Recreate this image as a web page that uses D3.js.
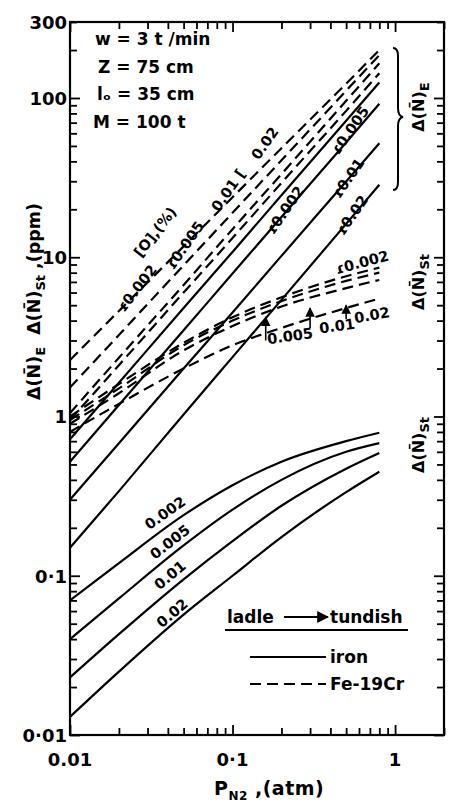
<!DOCTYPE html>
<html>
<head>
<meta charset="utf-8">
<script src="https://cdn.jsdelivr.net/npm/d3@7"></script>
<style>
  body { margin: 0; background: #fff; }
  svg text { font-family: "DejaVu Sans", sans-serif; fill: #000; font-weight: bold; }
</style>
</head>
<body>
<script>
const pressures = [0.01, 0.02, 0.05, 0.1, 0.2, 0.5, 0.8];
const oxygen = ["0.002", "0.005", "0.01", "0.02"];

// entrainment pickup dN_E (ppm), iron - solid
const ironE002 = [0.72, 1.63, 4.8, 10.8, 24.5, 72, 125];
const ironE005 = [0.52, 1.18, 3.48, 7.9, 17.9, 52.6, 92];
const ironE01  = [0.30, 0.68, 2.0, 4.5, 10.2, 29.9, 52];
const ironE02  = [0.15, 0.34, 1.03, 2.36, 5.4, 16.2, 28.5];

// entrainment pickup dN_E (ppm), Fe-19Cr - dashed
const crE002 = [2.26, 4.6, 11.7, 23.8, 48.4, 123, 200];
const crE005 = [1.52, 3.25, 8.9, 19.0, 40.6, 111, 186];
const crE01  = [1.05, 2.34, 6.7, 15.0, 33.3, 96, 165];
const crE02  = [0.95, 2.1, 6.0, 13.2, 29.3, 83, 143];

// stream pickup dN_St (ppm), Fe-19Cr - dashed
const crSt002 = [1.0, 1.6, 2.9, 4.2, 5.6, 7.6, 8.6];
const crSt005 = [0.95, 1.5, 2.8, 4.0, 5.3, 7.1, 8.0];
const crSt01  = [0.9, 1.4, 2.6, 3.7, 4.9, 6.4, 7.2];
const crSt02  = [0.8, 1.2, 2.0, 2.8, 3.6, 4.8, 5.5];

// stream pickup dN_St (ppm), iron - solid
const ironSt002 = [0.07, 0.12, 0.24, 0.37, 0.52, 0.70, 0.79];
const ironSt005 = [0.04, 0.072, 0.155, 0.26, 0.40, 0.60, 0.68];
const ironSt01  = [0.023, 0.043, 0.095, 0.165, 0.275, 0.47, 0.59];
const ironSt02  = [0.013, 0.025, 0.057, 0.10, 0.175, 0.335, 0.45];

const xTicks = [0.01, 0.1, 1];
const xTickLabels = ["0.01", "0·1", "1"];
const yTicks = [0.01, 0.1, 1, 10, 100, 300];
const yTickLabels = ["0·01", "0·1", "1", "10", "100", "300"];

const W = 449, H = 805;
const svg = d3.select("body").append("svg").attr("width", W).attr("height", H);

const x = d3.scaleLog().domain([0.01, 2]).range([70, 444]);
const y = d3.scaleLog().domain([0.01, 300]).range([735, 22]);

// tick marks, all pointing inward
const isMajor = v => Math.abs(Math.log10(v) - Math.round(Math.log10(v))) < 1e-6;
const len = v => isMajor(v) ? 10 : 7;

function ticks(axis, tr, attr, sign) {
  const g = svg.append("g").attr("transform", tr)
    .call(axis.tickFormat("").tickSizeOuter(0));
  g.select(".domain").remove();
  g.selectAll(".tick line").attr(attr, d => sign * len(d)).attr("stroke-width", 1.8);
}
ticks(d3.axisBottom(x).tickValues(x.ticks()), "translate(0,735)", "y2", -1);
ticks(d3.axisTop(x).tickValues(x.ticks()), "translate(0,22)", "y2", 1);
ticks(d3.axisLeft(y).tickValues(y.ticks()), "translate(70,0)", "x2", 1);
ticks(d3.axisRight(y).tickValues(y.ticks()), "translate(444,0)", "x2", -1);

svg.append("rect").attr("x", 70).attr("y", 22).attr("width", 374).attr("height", 713)
  .attr("fill", "none").attr("stroke", "#000").attr("stroke-width", 2.2);

// tick labels
svg.selectAll(".xl").data(xTicks).join("text")
  .attr("x", d => x(d)).attr("y", 766).attr("text-anchor", "middle")
  .attr("font-size", 18).text((d, i) => xTickLabels[i]);
svg.selectAll(".yl").data(yTicks).join("text")
  .attr("x", 67).attr("y", d => y(d) + 7).attr("text-anchor", "end")
  .attr("font-size", 18).text((d, i) => yTickLabels[i]);

// curves
const line = d3.line().x(d => x(d[0])).y(d => y(d[1])).curve(d3.curveMonotoneX);
const series = [
  [ironE002, false], [ironE005, false], [ironE01, false], [ironE02, false],
  [crE002, true], [crE005, true], [crE01, true], [crE02, true],
  [crSt002, true], [crSt005, true], [crSt01, true], [crSt02, true],
  [ironSt002, false], [ironSt005, false], [ironSt01, false], [ironSt02, false]
];
svg.append("g").selectAll("path").data(series).join("path")
  .attr("d", d => line(pressures.map((p, i) => [p, d[0][i]])))
  .attr("fill", "none").attr("stroke", "#000").attr("stroke-width", 2.2)
  .attr("stroke-dasharray", d => d[1] ? "11,6" : null);

// curve labels: anchor in data space, rotation in degrees
const curveLabels = [
  {t: "[O],(%)", p: 0.0334, v: 14.4, a: -52},
  {t: "\u027E" + oxygen[0], p: 0.0258, v: 6.4, a: -52},
  {t: "\u027E" + oxygen[1], p: 0.051, v: 11.9, a: -55},
  {t: oxygen[2] + " [", p: 0.094, v: 26.4, a: -55},
  {t: oxygen[3], p: 0.158, v: 52, a: -55},
  {t: "\u027E" + oxygen[0], p: 0.21, v: 19.8, a: -55},
  {t: "\u027E" + oxygen[1], p: 0.528, v: 62.8, a: -55},
  {t: "\u027E" + oxygen[2], p: 0.514, v: 31.4, a: -55},
  {t: "\u027E" + oxygen[3], p: 0.543, v: 18.4, a: -55},
  {t: "\u027E" + oxygen[0], p: 0.627, v: 9.3, a: -15},
  {t: oxygen[1], p: 0.226, v: 3.2, a: -8},
  {t: oxygen[2], p: 0.44, v: 3.7, a: -8},
  {t: oxygen[3], p: 0.72, v: 4.33, a: -10},
  {t: oxygen[0], p: 0.0385, v: 0.248, a: -35},
  {t: oxygen[1], p: 0.0412, v: 0.163, a: -38},
  {t: oxygen[2], p: 0.0412, v: 0.101, a: -40},
  {t: oxygen[3], p: 0.0425, v: 0.0583, a: -40}
];
svg.append("g").selectAll("text").data(curveLabels).join("text")
  .attr("transform", d => `translate(${x(d.p)},${y(d.v)}) rotate(${d.a})`)
  .attr("text-anchor", "middle").attr("dy", "0.35em")
  .attr("font-size", 14.5).text(d => d.t);

// leaders below the Fe-19Cr dN_St labels
const leaders = [
  {p: 0.16, v0: 3.0, v1: 4.2},
  {p: 0.3, v0: 3.6, v1: 4.8},
  {p: 0.5, v0: 4.1, v1: 5.0}
];
svg.append("defs").append("marker").attr("id", "ah").attr("viewBox", "0 0 10 10")
  .attr("refX", 9).attr("refY", 5).attr("markerWidth", 6).attr("markerHeight", 6)
  .attr("orient", "auto").append("path").attr("d", "M0,0L10,5L0,10z").attr("fill", "#000");
svg.append("g").selectAll("line").data(leaders).join("line")
  .attr("x1", d => x(d.p)).attr("x2", d => x(d.p))
  .attr("y1", d => y(d.v0)).attr("y2", d => y(d.v1))
  .attr("stroke", "#000").attr("stroke-width", 1.6).attr("marker-end", "url(#ah)");

// parameters block
const params = ["w = 3 t /min", "Z = 75 cm", "l\u2092 = 35 cm", "M = 100 t"];
svg.append("g").selectAll("text").data(params).join("text")
  .attr("x", (d, i) => [95, 98, 97, 93][i]).attr("y", (d, i) => 45 + i * 27.5)
  .attr("font-size", 17).text(d => d);

// brace for dN_E
svg.append("path")
  .attr("d", "M393,48 Q398,48 398,56 L398,108 Q398,116 403,117 Q398,118 398,126 L398,182 Q398,190 393,190")
  .attr("fill", "none").attr("stroke", "#000").attr("stroke-width", 2);

[["E", 424, 107], ["St", 424, 282], ["St", 424, 445]].forEach(([s, cx, cy]) => {
  const t = svg.append("text").attr("transform", `translate(${cx},${cy}) rotate(-90)`)
    .attr("text-anchor", "middle").attr("font-size", 16);
  t.append("tspan").text("\u0394(N\u0304)");
  t.append("tspan").attr("dy", 5).attr("font-size", 13).text(s);
});

// y axis title, read bottom to top
const yt = svg.append("text").attr("transform", "translate(40,400) rotate(-90)")
  .attr("font-size", 17.5).attr("xml:space", "preserve");
yt.append("tspan").text("\u0394(N\u0304)");
yt.append("tspan").attr("dy", 5).attr("font-size", 13).text("E");
yt.append("tspan").attr("dy", -5).text("  \u0394(N\u0304)");
yt.append("tspan").attr("dy", 5).attr("font-size", 13).text("St");
yt.append("tspan").attr("dy", -5).text(" ,(ppm)");

// x axis title
const xt = svg.append("text").attr("x", 214).attr("y", 795)
  .attr("font-size", 19).attr("letter-spacing", 0.5);
xt.append("tspan").text("P");
xt.append("tspan").attr("dy", 5).attr("font-size", 12).text("N2");
xt.append("tspan").attr("dy", -5).text(" ,(atm)");

// legend
svg.append("text").attr("x", 227).attr("y", 623).attr("font-size", 17).text("ladle");
svg.append("line").attr("x1", 284).attr("x2", 328).attr("y1", 617).attr("y2", 617)
  .attr("stroke", "#000").attr("stroke-width", 2).attr("marker-end", "url(#ah)");
svg.append("text").attr("x", 330).attr("y", 623).attr("font-size", 17).text("tundish");
svg.append("line").attr("x1", 225).attr("x2", 408).attr("y1", 630).attr("y2", 630)
  .attr("stroke", "#000").attr("stroke-width", 2);
const legendItems = [["iron", null, 657], ["Fe-19Cr", "11,6", 684]];
legendItems.forEach(([name, dash, ly]) => {
  svg.append("line").attr("x1", 250).attr("x2", 326).attr("y1", ly).attr("y2", ly)
    .attr("stroke", "#000").attr("stroke-width", 2).attr("stroke-dasharray", dash);
  svg.append("text").attr("x", 330).attr("y", ly + 6).attr("font-size", 17).text(name);
});
</script>
</body>
</html>
